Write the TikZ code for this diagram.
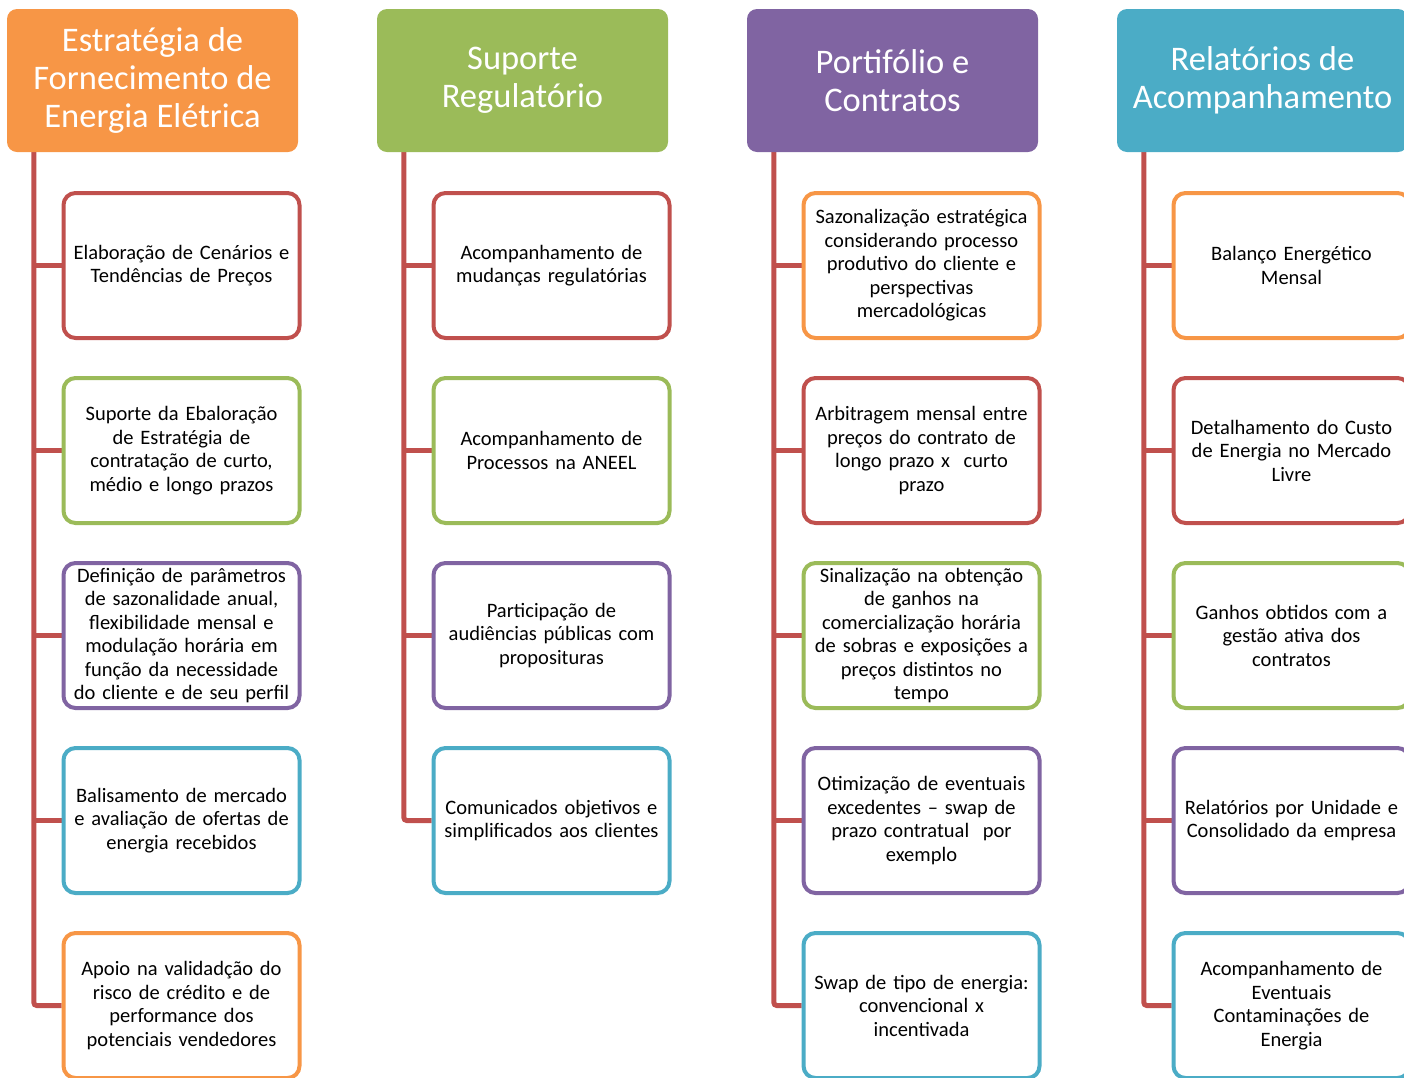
\documentclass[tikz,border=0pt]{standalone}
\usepackage{fontspec}
\setmainfont{Carlito}
\usetikzlibrary{backgrounds}
\definecolor{cOr}{HTML}{F79646}
\definecolor{cGr}{HTML}{9BBB59}
\definecolor{cPu}{HTML}{8064A2}
\definecolor{cBl}{HTML}{4BACC6}
\definecolor{cRe}{HTML}{C0504D}
\begin{document}
\begin{tikzpicture}[x=1pt,y=-1pt,
  head/.style={rounded corners=10pt, minimum width=291pt, minimum height=143pt, inner sep=0pt,
    text=white, align=center, font=\fontsize{34.5}{38}\selectfont},
  item/.style={draw=#1, fill=white, line width=4pt, rounded corners=12pt, minimum width=236pt,
    minimum height=145pt, inner sep=0pt, text width=234pt, align=center,
    font=\fontsize{20.5}{23.5}\selectfont},
  spine/.style={draw=cRe, line width=5pt, rounded corners=3pt}]
\clip (0,0) rectangle (1404,1077);
% headers
\node[head, fill=cOr] (h1) at (152.5,80.5) {\raisebox{-2pt}{\parbox{280pt}{\centering Estratégia de\\Fornecimento de\\Energia Elétrica}}};
\node[head, fill=cGr] (h2) at (522.5,80.5) {\raisebox{-2pt}{\parbox{280pt}{\centering Suporte\\Regulatório}}};
\node[head, fill=cPu] (h3) at (892.5,80.5) {\raisebox{-2pt}{\parbox{280pt}{\centering Portifólio e\\Contratos}}};
\node[head, fill=cBl] (h4) at (1262.5,80.5) {\raisebox{-2pt}{\parbox{280pt}{\centering Relatórios de\\Acompanhamento}}};
% column 1
\node[item=cRe] (c11) at (181.5,265.5) {Elaboração de Cenários e\\Tendências de Preços};
\node[item=cGr] (c12) at (181.5,450.5) {Suporte da Ebaloração\\de Estratégia de\\contratação de curto,\\médio e longo prazos};
\node[item=cPu] (c13) at (181.5,635.5) {Definição de parâmetros\\de sazonalidade anual,\\flexibilidade mensal e\\modulação horária em\\função da necessidade\\do cliente e de seu perfil};
\node[item=cBl] (c14) at (181.5,820.5) {Balisamento de mercado\\e avaliação de ofertas de\\energia recebidos};
\node[item=cOr] (c15) at (181.5,1005.5) {Apoio na validadção do\\risco de crédito e de\\performance dos\\potenciais vendedores};
% column 2
\node[item=cRe] (c21) at (551.5,265.5) {Acompanhamento de\\mudanças regulatórias};
\node[item=cGr] (c22) at (551.5,450.5) {Acompanhamento de\\Processos na ANEEL};
\node[item=cPu] (c23) at (551.5,635.5) {Participação de\\audiências públicas com\\proposituras};
\node[item=cBl] (c24) at (551.5,820.5) {Comunicados objetivos e\\simplificados aos clientes};
% column 3
\node[item=cOr] (c31) at (921.5,265.5) {Sazonalização estratégica\\considerando processo\\produtivo do cliente e\\perspectivas\\mercadológicas};
\node[item=cRe] (c32) at (921.5,450.5) {Arbitragem mensal entre\\preços do contrato de\\longo prazo x\ \ curto\\prazo};
\node[item=cGr] (c33) at (921.5,635.5) {Sinalização na obtenção\\de ganhos na\\comercialização horária\\de sobras e exposições a\\preços distintos no\\tempo};
\node[item=cPu] (c34) at (921.5,820.5) {Otimização de eventuais\\excedentes – swap de\\prazo contratual\ \ por\\exemplo};
\node[item=cBl] (c35) at (921.5,1005.5) {Swap de tipo de energia:\\convencional x\\incentivada};
% column 4
\node[item=cOr] (c41) at (1291.5,265.5) {Balanço Energético\\Mensal};
\node[item=cRe] (c42) at (1291.5,450.5) {Detalhamento do Custo\\de Energia no Mercado\\Livre};
\node[item=cGr] (c43) at (1291.5,635.5) {Ganhos obtidos com a\\gestão ativa dos\\contratos};
\node[item=cPu] (c44) at (1291.5,820.5) {Relatórios por Unidade e\\Consolidado da empresa};
\node[item=cBl] (c45) at (1291.5,1005.5) {Acompanhamento de\\Eventuais\\Contaminações de\\Energia};
% spines
\begin{scope}[on background layer]
\draw[spine] (h1.south west) ++(27,0) coordinate (s1) |- (c15.west);
\foreach \n in {c11,c12,c13,c14} \draw[spine] (\n.west) -- (\n.west -| s1);
\draw[spine] (h2.south west) ++(27,0) coordinate (s2) |- (c24.west);
\foreach \n in {c21,c22,c23} \draw[spine] (\n.west) -- (\n.west -| s2);
\draw[spine] (h3.south west) ++(27,0) coordinate (s3) |- (c35.west);
\foreach \n in {c31,c32,c33,c34} \draw[spine] (\n.west) -- (\n.west -| s3);
\draw[spine] (h4.south west) ++(27,0) coordinate (s4) |- (c45.west);
\foreach \n in {c41,c42,c43,c44} \draw[spine] (\n.west) -- (\n.west -| s4);
\end{scope}
\end{tikzpicture}
\end{document}
